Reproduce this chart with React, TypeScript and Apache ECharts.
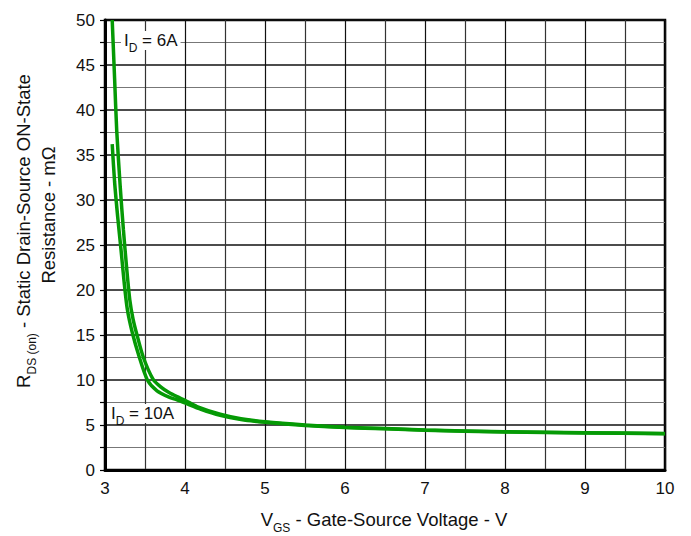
import React, { useEffect, useRef } from "react";
import * as echarts from "echarts";

const vgs6A = [3.09, 3.12, 3.146, 3.19, 3.23, 3.27, 3.31, 3.35, 3.4, 3.48, 3.6, 3.7, 3.8, 3.9, 4.0, 4.15, 4.44, 4.7, 5.0, 5.5, 6.0, 6.5, 7.0, 8.0, 9.0, 10.0];
const rds6A = [50, 43.5, 37.8, 31.5, 26.7, 22.5, 18.9, 16.8, 15, 12.5, 10.1, 9.2, 8.6, 8.15, 7.75, 7.05, 6.2, 5.7, 5.35, 5.0, 4.75, 4.6, 4.45, 4.25, 4.15, 4.05];
const vgs10A = [3.09, 3.12, 3.16, 3.2, 3.24, 3.28, 3.34, 3.43, 3.53, 3.65, 3.8, 3.9, 4.0, 4.2, 4.44, 4.7, 5.0, 5.5, 6.0, 6.5, 7.0, 8.0, 9.0, 10.0];
const rds10A = [36.2, 32, 28, 24.5, 20.8, 17.8, 15.3, 12.5, 10, 8.8, 8.1, 7.8, 7.45, 6.75, 6.08, 5.6, 5.3, 4.95, 4.72, 4.58, 4.42, 4.22, 4.12, 4.02];
const xTicks = [3, 4, 5, 6, 7, 8, 9, 10];
const yTicks = [0, 5, 10, 15, 20, 25, 30, 35, 40, 45, 50];

const FONT = "Liberation Sans, Arial, sans-serif";
const GREEN = "#059a05";

export default function App() {
  const ref = useRef<HTMLDivElement>(null);
  useEffect(() => {
    if (!ref.current) return;
    const chart = echarts.init(ref.current, undefined, { renderer: "svg" });
    const pairs = (xs: number[], ys: number[]) => xs.map((x, i) => [x, ys[i]]);
    const sub = { fontSize: 12, verticalAlign: "bottom", padding: [0, 0, -5, 0], fontFamily: FONT, color: "#111" };
    const lineSeries = (name: string, xs: number[], ys: number[]) => ({
      name,
      type: "line",
      data: pairs(xs, ys),
      smooth: 0.25,
      showSymbol: false,
      lineStyle: { color: GREEN, width: 3.5 },
      z: 3,
    });
    chart.setOption({
      animation: false,
      backgroundColor: "#fff",
      grid: { left: 105, top: 20, right: 26, bottom: 66, show: true, borderColor: "#000", borderWidth: 2.5, backgroundColor: "#fff" },
      xAxis: {
        type: "value",
        min: xTicks[0],
        max: xTicks[xTicks.length - 1],
        interval: 1,
        axisLine: { show: true, lineStyle: { color: "#000", width: 3 } },
        axisTick: { show: false },
        axisLabel: { fontSize: 17, color: "#111", fontFamily: FONT, margin: 10 },
        splitLine: { show: true, lineStyle: { color: "#111", width: 1.2 } },
        minorTick: { show: false, splitNumber: 2 },
        minorSplitLine: { show: true, lineStyle: { color: "#333", width: 1.2 } },
      },
      yAxis: {
        type: "value",
        min: yTicks[0],
        max: yTicks[yTicks.length - 1],
        interval: 5,
        axisLine: { show: true, lineStyle: { color: "#000", width: 3 } },
        axisTick: { show: true, length: 5, lineStyle: { color: "#000", width: 1.2 } },
        minorTick: { show: true, splitNumber: 2, length: 5, lineStyle: { color: "#000", width: 1.2 } },
        axisLabel: { fontSize: 17, color: "#111", fontFamily: FONT, margin: 10 },
        splitLine: { show: true, lineStyle: { color: "#111", width: 1.5 } },
        minorSplitLine: { show: true, lineStyle: { color: "#777", width: 1.2 } },
      },
      series: [lineSeries("ID = 6A", vgs6A, rds6A), lineSeries("ID = 10A", vgs10A, rds10A)],
      graphic: [
        {
          type: "text",
          left: 121,
          top: 31,
          z: 10,
          style: {
            text: "I{s|D} = 6A",
            fontSize: 17,
            fontFamily: FONT,
            fill: "#111",
            backgroundColor: "#fff",
            padding: [1, 3, 1, 3],
            rich: { s: sub },
          },
        },
        {
          type: "text",
          left: 109,
          top: 404,
          z: 10,
          style: {
            text: "I{s|D} = 10A",
            fontSize: 17,
            fontFamily: FONT,
            fill: "#111",
            backgroundColor: "#fff",
            padding: [1, 3, 1, 2],
            rich: { s: sub },
          },
        },
        {
          type: "text",
          x: 384,
          y: 519,
          style: {
            text: "V{s|GS} - Gate-Source Voltage - V",
            fontSize: 18.5,
            fontFamily: FONT,
            fill: "#111",
            align: "center",
            verticalAlign: "middle",
            rich: { s: sub },
          },
        },
        {
          type: "text",
          x: 23,
          y: 231,
          rotation: Math.PI / 2,
          style: {
            text: "R{s|DS (on)} - Static Drain-Source ON-State",
            fontSize: 18.5,
            fontFamily: FONT,
            fill: "#111",
            align: "center",
            verticalAlign: "middle",
            rich: { s: sub },
          },
        },
        {
          type: "text",
          x: 48,
          y: 215,
          rotation: Math.PI / 2,
          style: {
            text: "Resistance - mΩ",
            fontSize: 18.5,
            fontFamily: FONT,
            fill: "#111",
            align: "center",
            verticalAlign: "middle",
          },
        },
      ],
    });
    return () => chart.dispose();
  }, []);
  return <div ref={ref} style={{ position: "fixed", left: 0, top: 0, width: 691, height: 536 }} />;
}
